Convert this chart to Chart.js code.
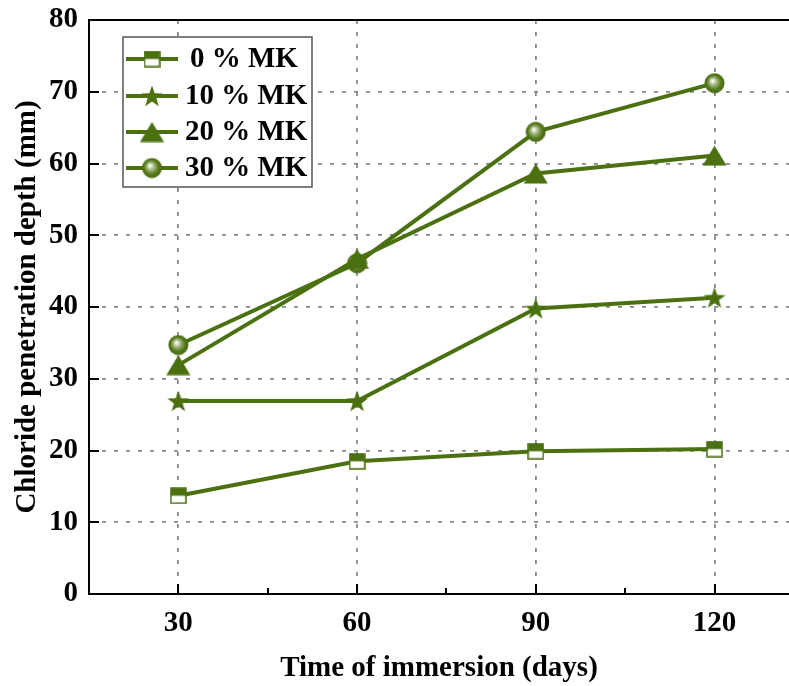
<!DOCTYPE html>
<html>
<head>
<meta charset="utf-8">
<script src="https://cdn.jsdelivr.net/npm/chart.js@4/dist/chart.umd.min.js"></script>
<style>
  html, body { margin: 0; padding: 0; background: #fff; overflow: hidden; }
  #wrap { width: 789px; height: 686px; position: relative; }
  canvas { display: block; }
</style>
</head>
<body>
<div id="wrap"><canvas id="chloride"></canvas></div>
<script>
const days = [30, 60, 90, 120];
const mk0 = [13.7, 18.5, 19.9, 20.2];
const mk10 = [26.9, 26.9, 39.8, 41.3];
const mk20 = [31.9, 46.7, 58.6, 61.1];
const mk30 = [34.7, 46.1, 64.4, 71.2];
const seriesNames = ['0 % MK', '10 % MK', '20 % MK', '30 % MK'];
const yTicks = [0, 10, 20, 30, 40, 50, 60, 70, 80];
const minorDays = [45, 75, 105];

const green = '#4a7010';
const serif = "'Liberation Serif', 'Times New Roman', serif";

function makeCanvas(w, h, draw) {
    const c = document.createElement('canvas');
    c.width = w; c.height = h;
    draw(c.getContext('2d'), w, h);
    return c;
}
// half filled square
const squareMark = makeCanvas(17, 17, (g, w, h) => {
    g.fillStyle = '#fff';
    g.fillRect(1, 1, w - 2, h - 2);
    g.fillStyle = green;
    g.fillRect(1, 1, w - 2, (h - 2) / 2);
    g.strokeStyle = green;
    g.lineWidth = 1.5;
    g.strokeRect(1, 1, w - 2, h - 2);
});
// five point star
const starMark = makeCanvas(24, 24, (g, w, h) => {
    const cx = w / 2, cy = h / 2 + 1, ro = 11.5, ri = 4.6;
    g.beginPath();
    for (let i = 0; i < 10; i++) {
        const r = i % 2 ? ri : ro;
        const a = -Math.PI / 2 + i * Math.PI / 5;
        g.lineTo(cx + r * Math.cos(a), cy + r * Math.sin(a));
    }
    g.closePath();
    g.fillStyle = green;
    g.fill();
});
const triMark = makeCanvas(25, 21, (g, w, h) => {
    g.beginPath();
    g.moveTo(w / 2, 0.5);
    g.lineTo(w - 0.5, h - 0.5);
    g.lineTo(0.5, h - 0.5);
    g.closePath();
    g.fillStyle = green;
    g.fill();
});
const ballMark = makeCanvas(21, 21, (g, w, h) => {
    const grd = g.createRadialGradient(w * 0.4, h * 0.38, 0.5, w / 2, h / 2, 10);
    grd.addColorStop(0, '#ffffff');
    grd.addColorStop(0.35, '#9fb57a');
    grd.addColorStop(0.7, '#56791c');
    grd.addColorStop(1, '#456a0c');
    g.beginPath();
    g.arc(w / 2, h / 2, 10, 0, Math.PI * 2);
    g.fillStyle = grd;
    g.fill();
});
const marks = [squareMark, starMark, triMark, ballMark];

const frameAndLegend = {
    id: 'frameAndLegend',
    afterDraw(chart) {
        const { ctx, chartArea: a, scales: { x, y } } = chart;
        ctx.save();
        ctx.strokeStyle = '#000';
        ctx.lineWidth = 2;
        // top spine
        ctx.beginPath();
        ctx.moveTo(a.left, a.top);
        ctx.lineTo(a.right, a.top);
        ctx.stroke();
        // inward ticks
        ctx.beginPath();
        yTicks.forEach(v => {
            const py = Math.round(y.getPixelForValue(v));
            ctx.moveTo(a.left, py);
            ctx.lineTo(a.left + 10, py);
        });
        days.forEach(v => {
            const px = Math.round(x.getPixelForValue(v));
            ctx.moveTo(px, a.bottom);
            ctx.lineTo(px, a.bottom - 10);
        });
        minorDays.forEach(v => {
            const px = Math.round(x.getPixelForValue(v));
            ctx.moveTo(px, a.bottom);
            ctx.lineTo(px, a.bottom - 6);
        });
        ctx.stroke();

        // legend
        const bx = 123, by = 37, bw = 189, bh = 150;
        ctx.fillStyle = '#fff';
        ctx.fillRect(bx, by, bw, bh);
        ctx.strokeStyle = '#555';
        ctx.lineWidth = 1.5;
        ctx.strokeRect(bx, by, bw, bh);
        const rows = [59, 96, 132, 168];
        ctx.font = 'bold 29px ' + serif;
        ctx.textBaseline = 'middle';
        ctx.textAlign = 'left';
        rows.forEach((ry, i) => {
            ctx.strokeStyle = green;
            ctx.lineWidth = 4;
            ctx.beginPath();
            ctx.moveTo(126, ry);
            ctx.lineTo(178, ry);
            ctx.stroke();
            const m = marks[i];
            ctx.drawImage(m, 152 - m.width / 2, ry - m.height / 2);
            ctx.fillStyle = '#000';
            ctx.fillText(seriesNames[i], i === 0 ? 190 : 185, ry + 1);
        });
        ctx.restore();
    }
};

const allSeries = [mk0, mk10, mk20, mk30];
const datasets = allSeries.map((vals, i) => ({
    label: seriesNames[i],
    data: vals.map((v, j) => ({ x: days[j], y: v })),
    borderColor: green,
    backgroundColor: green,
    borderWidth: 4,
    pointStyle: marks[i],
    pointRadius: 10,
    pointHoverRadius: 10,
    tension: 0,
    showLine: true
}));

new Chart(document.getElementById('chloride'), {
    type: 'scatter',
    data: { datasets },
    options: {
        responsive: true,
        maintainAspectRatio: false,
        animation: false,
        layout: { autoPadding: false, padding: { top: 20, right: 0, bottom: 0, left: 0 } },
        plugins: { legend: { display: false }, tooltip: { enabled: false } },
        scales: {
            x: {
                type: 'linear',
                min: 15,
                max: 132.5,
                afterBuildTicks: s => { s.ticks = days.map(v => ({ value: v })); },
                afterFit: s => { s.height = 92; s.paddingLeft = 0; s.paddingRight = 0; },
                ticks: {
                    color: '#000',
                    font: { family: serif, weight: 'bold', size: 29 },
                    padding: 12,
                    callback: v => String(v)
                },
                grid: { color: '#888', lineWidth: 1.8, drawTicks: false },
                border: { color: '#000', width: 2, dash: [4, 8] },
                title: {
                    display: true,
                    text: 'Time of immersion (days)',
                    color: '#000',
                    font: { family: serif, weight: 'bold', size: 29 },
                    padding: { top: 2, bottom: 0 }
                }
            },
            y: {
                min: 0,
                max: 80,
                afterBuildTicks: s => { s.ticks = yTicks.map(v => ({ value: v })); },
                afterFit: s => { s.width = 89; s.paddingTop = 0; s.paddingBottom = 0; },
                ticks: {
                    color: '#000',
                    font: { family: serif, weight: 'bold', size: 29 },
                    padding: 11
                },
                grid: {
                    color: c => (c.tick && (c.tick.value === 0 || c.tick.value === 80)) ? 'rgba(0,0,0,0)' : '#888',
                    lineWidth: 1.8,
                    drawTicks: false
                },
                border: { color: '#000', width: 2, dash: [4, 8] },
                title: {
                    display: true,
                    text: 'Chloride penetration depth (mm)',
                    color: '#000',
                    font: { family: serif, weight: 'bold', size: 29 },
                    padding: { top: 10, bottom: 0 }
                }
            }
        }
    },
    plugins: [frameAndLegend]
});
</script>
</body>
</html>
